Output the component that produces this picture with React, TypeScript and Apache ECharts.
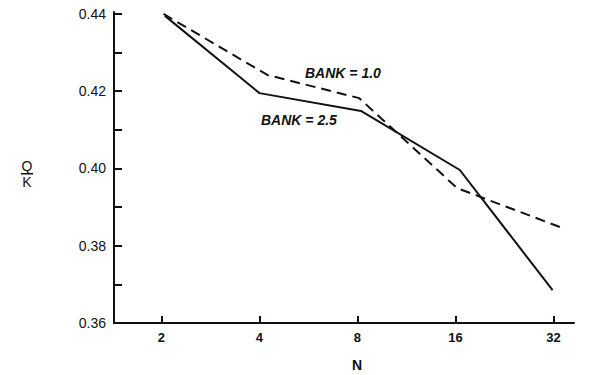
import React, { useEffect, useRef } from "react";
import * as echarts from "echarts";

const nTicks = [2, 4, 8, 16, 32];
const yMajorTicks = [0.36, 0.38, 0.4, 0.42, 0.44];
const yMinorTicks = [0.36, 0.37, 0.38, 0.39, 0.4, 0.41, 0.42, 0.43, 0.44];

const bank25N = [2.05, 4.0, 8.2, 16.5, 31.8];
const bank25Q = [0.4395, 0.4195, 0.4149, 0.3996, 0.3685];

const bank10N = [2.03, 4.23, 8.1, 16.2, 34.1];
const bank10Q = [0.44, 0.4242, 0.4182, 0.3949, 0.3846];

const seriesNames = ["BANK = 2.5", "BANK = 1.0"];

export default function App() {
  const ref = useRef<HTMLDivElement>(null);
  useEffect(() => {
    document.body.style.margin = "0";
    const chart = echarts.init(ref.current!, null, { renderer: "svg" });
    const ink = "#111";
    const font = "Liberation Sans, Arial, sans-serif";
    chart.setOption({
      animation: false,
      backgroundColor: "#fff",
      grid: { left: 114, right: 22, top: 12, bottom: 52 },
      xAxis: {
        type: "log",
        logBase: 2,
        min: 1.43,
        max: 37,
        axisLine: { lineStyle: { color: ink, width: 2 } },
        axisTick: {
          inside: true,
          length: 7,
          lineStyle: { color: ink, width: 2 },
          customValues: nTicks,
        },
        axisLabel: {
          customValues: nTicks,
          color: ink,
          fontSize: 13,
          fontWeight: "bold",
          fontFamily: font,
          margin: 8,
          formatter: (v: number) => String(Math.round(v)),
        },
        splitLine: { show: false },
      },
      yAxis: {
        type: "value",
        min: 0.36,
        max: 0.4405,
        axisLine: { show: true, lineStyle: { color: ink, width: 2 } },
        axisTick: {
          show: true,
          inside: true,
          length: 8,
          lineStyle: { color: ink, width: 2 },
          customValues: yMinorTicks,
        },
        axisLabel: {
          customValues: yMajorTicks,
          color: ink,
          fontSize: 14,
          fontFamily: font,
          margin: 8,
          formatter: (v: number) => v.toFixed(2),
        },
        splitLine: { show: false },
      },
      series: [
        {
          name: seriesNames[0],
          type: "line",
          data: bank25N.map((n, i) => [n, bank25Q[i]]),
          showSymbol: false,
          lineStyle: { color: ink, width: 2, type: "solid" },
        },
        {
          name: seriesNames[1],
          type: "line",
          data: bank10N.map((n, i) => [n, bank10Q[i]]),
          showSymbol: false,
          lineStyle: { color: ink, width: 2, type: [10, 6] },
        },
      ],
      graphic: [
        {
          type: "text",
          left: 305,
          top: 66,
          style: {
            text: seriesNames[1],
            fontSize: 14,
            fontWeight: "bold",
            fontStyle: "italic",
            fontFamily: font,
            fill: ink,
          },
        },
        {
          type: "text",
          left: 261,
          top: 113,
          style: {
            text: seriesNames[0],
            fontSize: 14,
            fontWeight: "bold",
            fontStyle: "italic",
            fontFamily: font,
            fill: ink,
          },
        },
        {
          type: "text",
          left: 352,
          top: 358,
          style: {
            text: "N",
            fontSize: 14,
            fontWeight: "bold",
            fontFamily: font,
            fill: ink,
          },
        },
        {
          type: "text",
          x: 27,
          y: 166,
          style: {
            text: "Q",
            fontSize: 14,
            fontFamily: font,
            fill: ink,
            align: "center",
            verticalAlign: "middle",
          },
        },
        {
          type: "rect",
          shape: { x: 21, y: 173, width: 12, height: 1.5 },
          style: { fill: ink },
        },
        {
          type: "text",
          x: 27,
          y: 182,
          style: {
            text: "K",
            fontSize: 14,
            fontFamily: font,
            fill: ink,
            align: "center",
            verticalAlign: "middle",
          },
        },
      ],
    });
    return () => chart.dispose();
  }, []);
  return <div ref={ref} style={{ width: 596, height: 375 }} />;
}
